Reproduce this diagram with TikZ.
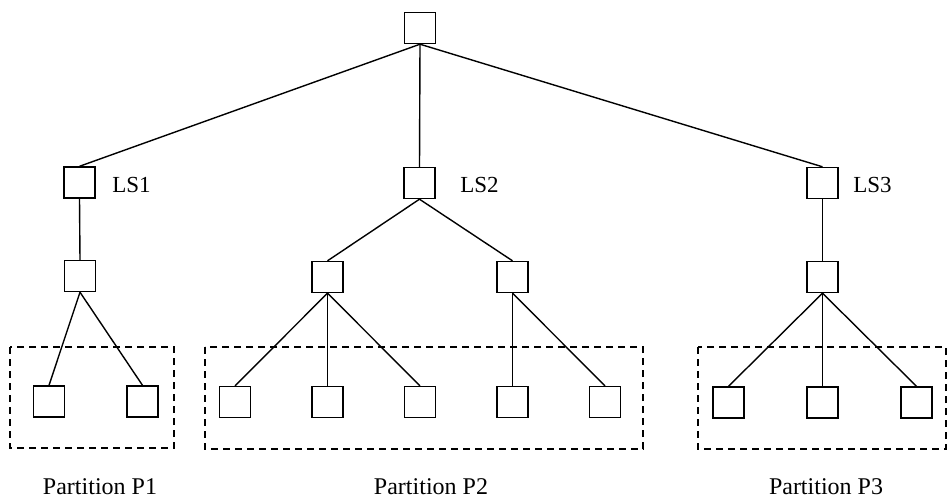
\documentclass[tikz,border=0pt]{standalone}
\usepackage{fontspec}
\setmainfont{Liberation Serif}
\begin{document}
\begin{tikzpicture}[x=0.5pt,y=-0.5pt,
  box/.style={draw,line width=0.7pt,minimum width=15.5pt,minimum height=15.5pt,inner sep=0pt,fill=white},
  edge/.style={line width=0.7pt},
  part/.style={draw,line width=0.65pt,dash pattern=on 3.5pt off 2.5pt},
  lslabel/.style={anchor=west,inner sep=0pt,font=\fontsize{11.5}{13}\selectfont},
  plabel/.style={inner sep=0pt,font=\fontsize{12}{14}\selectfont}]
\useasboundingbox (0,0) rectangle (948,500);
% partitions
\draw[part] (10,347) rectangle (174,448);
\draw[part] (205,347) rectangle (643,449);
\draw[part] (698,347) rectangle (946,449);
% nodes
\node[box] (root) at (420,28) {};
\node[box] (ls1) at (79.5,182.5) {};
\node[box] (ls2) at (419.5,183) {};
\node[box] (ls3) at (822.5,183) {};
\node[box] (m1) at (80,276) {};
\node[box] (m2a) at (327.5,277) {};
\node[box] (m2b) at (512.5,277) {};
\node[box] (m3) at (822.5,277) {};
\node[box] (a1) at (49,401.5) {};
\node[box] (a2) at (142.5,401.5) {};
\node[box] (b1) at (235,402) {};
\node[box] (b2) at (327.5,402) {};
\node[box] (b3) at (420,402) {};
\node[box] (b4) at (512.5,402) {};
\node[box] (b5) at (605,402) {};
\node[box] (c1) at (728.5,402.5) {};
\node[box] (c2) at (822.5,402.5) {};
\node[box] (c3) at (916.5,402.5) {};
% labels
\node[lslabel] (t1) at (112,185) {LS1};
\node[lslabel] (t2) at (460,185) {LS2};
\node[lslabel] (t3) at (853,185) {LS3};
\node[plabel] (p1) at (100,487) {Partition P1};
\node[plabel] (p2) at (431,487) {Partition P2};
\node[plabel] (p3) at (826,487) {Partition P3};
% edges
\draw[edge] (root.south) -- (ls1.north);
\draw[edge] (root.south) -- (ls2.north);
\draw[edge] (root.south) -- (ls3.north);
\draw[edge] (ls1.south) -- (m1.north);
\draw[edge] (ls2.south) -- (m2a.north);
\draw[edge] (ls2.south) -- (m2b.north);
\draw[edge] (ls3.south) -- (m3.north);
\draw[edge] (m1.south) -- (a1.north);
\draw[edge] (m1.south) -- (a2.north);
\draw[edge] (m2a.south) -- (b1.north);
\draw[edge] (m2a.south) -- (b2.north);
\draw[edge] (m2a.south) -- (b3.north);
\draw[edge] (m2b.south) -- (b4.north);
\draw[edge] (m2b.south) -- (b5.north);
\draw[edge] (m3.south) -- (c1.north);
\draw[edge] (m3.south) -- (c2.north);
\draw[edge] (m3.south) -- (c3.north);
\end{tikzpicture}
\end{document}
